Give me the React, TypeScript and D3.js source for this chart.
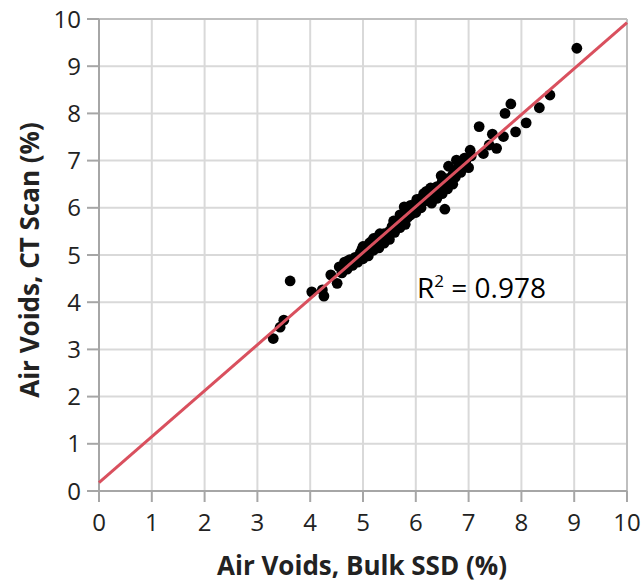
import React from "react";
import * as d3 from "d3";

const xTicks = [0, 1, 2, 3, 4, 5, 6, 7, 8, 9, 10];
const yTicks = [0, 1, 2, 3, 4, 5, 6, 7, 8, 9, 10];

const bulkSSD = [
  3.3, 3.43, 3.5, 3.62, 4.03, 4.23, 4.26, 4.39, 4.51, 4.55, 4.6, 4.65, 4.7, 4.75, 4.8, 4.85, 4.9, 4.95,
  5.0, 5.0, 5.05, 5.1, 5.1, 5.15, 5.2, 5.2, 5.25, 5.3, 5.3, 5.35, 5.4, 5.4, 5.45, 5.5, 5.5, 5.55,
  5.6, 5.65, 5.7, 5.7, 5.75, 5.8, 5.8, 5.85, 5.9, 5.9, 5.95, 6.0, 6.0, 6.05, 6.1, 6.1, 6.15, 6.2,
  6.2, 6.25, 6.3, 6.3, 6.35, 6.4, 6.4, 6.45, 6.5, 6.5, 6.55, 6.55, 6.6, 6.6, 6.65, 6.7, 6.7, 6.75,
  6.77, 6.74, 6.8, 6.85, 6.9, 6.95, 7.0, 7.03, 7.05, 7.2, 7.28, 7.39, 7.45, 7.53, 7.66, 7.69, 7.8,
  7.89, 8.09, 8.34, 8.54, 9.05, 4.98, 5.12, 5.58, 5.78, 6.02, 6.28, 6.48, 6.62, 6.92, 5.32, 4.72,
];
const ctScan = [
  3.23, 3.47, 3.62, 4.45, 4.22, 4.26, 4.13, 4.58, 4.4, 4.75, 4.62, 4.85, 4.7, 4.9, 4.78, 4.95, 4.85, 5.05,
  4.92, 5.18, 5.05, 5.2, 4.98, 5.28, 5.1, 5.35, 5.22, 5.4, 5.15, 5.3, 5.45, 5.25, 5.38, 5.5, 5.33, 5.6,
  5.48, 5.7, 5.58, 5.85, 5.72, 5.92, 5.65, 5.8, 6.05, 5.85, 5.95, 6.1, 5.9, 6.05, 6.2, 6.0, 6.3, 6.15,
  6.35, 6.25, 6.4, 6.1, 6.3, 6.45, 6.2, 6.38, 6.55, 6.3, 6.48, 5.97, 6.62, 6.4, 6.55, 6.7, 6.5, 6.65,
  7.01, 6.73, 6.85, 6.75, 6.9, 7.0, 6.85, 7.22, 7.1, 7.72, 7.15, 7.33, 7.56, 7.26, 7.51, 8.0, 8.2,
  7.61, 7.8, 8.12, 8.39, 9.38, 5.12, 5.25, 5.72, 6.02, 6.18, 6.42, 6.68, 6.88, 7.05, 5.45, 4.88,
];

const fitIntercept = 0.175;
const fitSlope = 0.975;
const r2Value = "0.978";

export default function App() {
  const left = 99, right = 627, top = 19, bottom = 491;
  const x = d3.scaleLinear().domain([0, 10]).range([left, right]);
  const y = d3.scaleLinear().domain([0, 10]).range([bottom, top]);
  const font = "'Open Sans', sans-serif";
  const tickColor = "#222";
  const line = d3.line<number>().x((d) => x(d)).y((d) => y(fitIntercept + fitSlope * d));
  return (
    <svg width={641} height={583} style={{ position: "absolute", left: 0, top: 0, background: "#fff" }}>
      {xTicks.map((t) => (
        <line key={"gx" + t} x1={x(t)} x2={x(t)} y1={top} y2={bottom} stroke="#d9d9d9" strokeWidth={2} />
      ))}
      {yTicks.map((t) => (
        <line key={"gy" + t} x1={left} x2={right} y1={y(t)} y2={y(t)} stroke="#d9d9d9" strokeWidth={2} />
      ))}
      <line x1={left} x2={right} y1={top} y2={top} stroke="#bfbfbf" strokeWidth={2} />
      <line x1={right} x2={right} y1={top} y2={bottom} stroke="#bfbfbf" strokeWidth={2} />
      <line x1={left} x2={left} y1={top} y2={bottom} stroke="#a6a6a6" strokeWidth={2} />
      <line x1={left} x2={right} y1={bottom} y2={bottom} stroke="#a6a6a6" strokeWidth={2} />
      {xTicks.map((t) => (
        <line key={"tx" + t} x1={x(t)} x2={x(t)} y1={bottom} y2={bottom + 11} stroke="#a6a6a6" strokeWidth={2} />
      ))}
      {yTicks.map((t) => (
        <line key={"ty" + t} x1={left - 12} x2={left} y1={y(t)} y2={y(t)} stroke="#a6a6a6" strokeWidth={2} />
      ))}
      {bulkSSD.map((v, i) => (
        <circle key={"p" + i} cx={x(v)} cy={y(ctScan[i])} r={5.4} fill="#000" />
      ))}
      <path d={line([0, 10]) || ""} stroke="#d9505e" strokeWidth={3} fill="none" />
      {xTicks.map((t) => (
        <text key={"lx" + t} x={x(t)} y={531} textAnchor="middle" fontFamily={font} fontSize={24} fill={tickColor}>
          {t}
        </text>
      ))}
      {yTicks.map((t) => (
        <text key={"ly" + t} x={81} y={y(t) + 8.5} textAnchor="end" fontFamily={font} fontSize={24} fill={tickColor}>
          {t}
        </text>
      ))}
      <text x={417} y={298} fontFamily={font} fontSize={28} fill="#000">
        R<tspan dy={-11} fontSize={17}>2</tspan>
        <tspan dy={11}> = {r2Value}</tspan>
      </text>
      <text x={362} y={575} textAnchor="middle" fontFamily={font} fontWeight="bold" fontSize={26} fill="#222">
        Air Voids, Bulk SSD (%)
      </text>
      <text
        transform="translate(39,260) rotate(-90)"
        textAnchor="middle"
        fontFamily={font}
        fontWeight="bold"
        fontSize={26}
        fill="#222"
      >
        Air Voids, CT Scan (%)
      </text>
    </svg>
  );
}
